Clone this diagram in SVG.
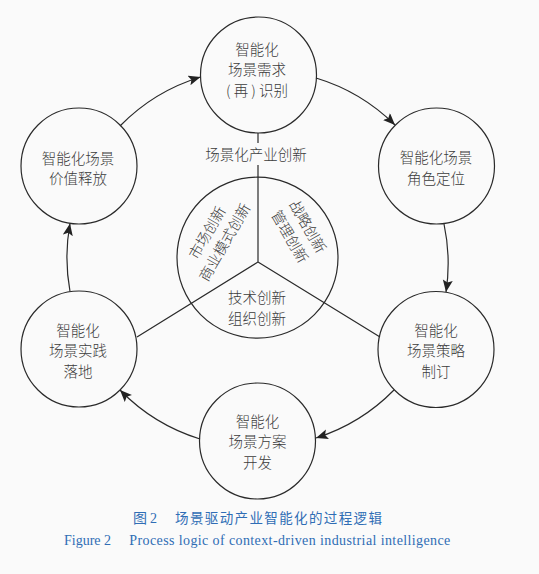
<svg xmlns="http://www.w3.org/2000/svg" width="539" height="574" viewBox="0 0 539 574">
<style>
.bg{fill:#fafafa}
.node{fill:none;stroke:#2a2a2a;stroke-width:1.2}
.conn{fill:none;stroke:#2a2a2a;stroke-width:1.2}
.t{font-family:"Noto Sans CJK SC","Noto Sans",sans-serif;font-size:14.5px;font-weight:300;fill:#3c3c3c;text-anchor:middle;dominant-baseline:central}
.cap{font-family:"Liberation Serif","Noto Sans CJK SC",serif;fill:#2f6db5}
</style>
<defs>
<marker id="arr" markerUnits="userSpaceOnUse" markerWidth="14" markerHeight="12" refX="12" refY="5" orient="auto">
<path d="M0,0 L12,5 L0,10 L2.5,5 z" fill="#222"/>
</marker>
</defs>
<rect class="bg" x="0" y="0" width="539" height="574"/>
<g id="connectors">
<path class="conn" d="M316,78 A190,190 0 0 1 395,125" marker-end="url(#arr)"/>
<path class="conn" d="M444,224 A190,190 0 0 1 446,292" marker-end="url(#arr)"/>
<path class="conn" d="M394,390 A190,190 0 0 1 316,438" marker-end="url(#arr)"/>
<path class="conn" d="M200,439 A190,190 0 0 1 120,390" marker-end="url(#arr)"/>
<path class="conn" d="M70,291.5 A190,190 0 0 1 70,223.5" marker-end="url(#arr)"/>
<path class="conn" d="M120,126 A190,190 0 0 1 200.5,77" marker-end="url(#arr)"/>
<path class="conn" d="M258,133 L258,143 M258,165 L258,262 L137,337 M258,262 L380,337"/>
</g>
<g id="center">
<circle class="node" cx="257.5" cy="257.7" r="80.5"/>
<text class="t" x="256" y="153">场景化产业创新</text>
<text class="t" transform="translate(206,232) rotate(-60)" x="0" y="0">市场创新</text>
<text class="t" transform="translate(223.5,241.5) rotate(-60)" x="0" y="0">商业模式创新</text>
<text class="t" transform="translate(309,226) rotate(60)" x="0" y="0">战略创新</text>
<text class="t" transform="translate(291,236) rotate(60)" x="0" y="0">管理创新</text>
<text class="t" x="257" y="296">技术创新</text>
<text class="t" x="257" y="317">组织创新</text>
</g>
<g id="n1">
<circle class="node" cx="258.5" cy="75" r="58"/>
<text class="t" x="257" y="48">智能化</text>
<text class="t" x="257" y="68.5">场景需求</text>
<text class="t" x="257" y="89">( 再 ) 识别</text>
</g>
<g id="n2">
<circle class="node" cx="436.5" cy="166" r="58"/>
<text class="t" x="436" y="156.5">智能化场景</text>
<text class="t" x="436" y="177">角色定位</text>
</g>
<g id="n3">
<circle class="node" cx="436" cy="349.5" r="58"/>
<text class="t" x="436" y="329">智能化</text>
<text class="t" x="436" y="349.5">场景策略</text>
<text class="t" x="436" y="370">制订</text>
</g>
<g id="n4">
<circle class="node" cx="257.5" cy="441" r="58"/>
<text class="t" x="257.5" y="420">智能化</text>
<text class="t" x="257.5" y="440.5">场景方案</text>
<text class="t" x="257.5" y="461">开发</text>
</g>
<g id="n5">
<circle class="node" cx="79" cy="349" r="58"/>
<text class="t" x="78" y="329">智能化</text>
<text class="t" x="78" y="349.5">场景实践</text>
<text class="t" x="78" y="370">落地</text>
</g>
<g id="n6">
<circle class="node" cx="79" cy="166" r="58"/>
<text class="t" x="78" y="157">智能化场景</text>
<text class="t" x="78" y="177">价值释放</text>
</g>
<g id="caption">
<text class="cap" x="133" y="522.5" font-size="14">图<tspan dx="3">2</tspan></text>
<text class="cap" x="175" y="522.5" font-size="13.5" textLength="207" lengthAdjust="spacing" style="font-family:'Noto Sans CJK SC',sans-serif">场景驱动产业智能化的过程逻辑</text>
<text class="cap" x="64" y="544.5" font-size="14">Figure 2</text>
<text class="cap" x="129.3" y="544.5" font-size="14" textLength="321" lengthAdjust="spacing">Process logic of context-driven industrial intelligence</text>
</g>
</svg>
